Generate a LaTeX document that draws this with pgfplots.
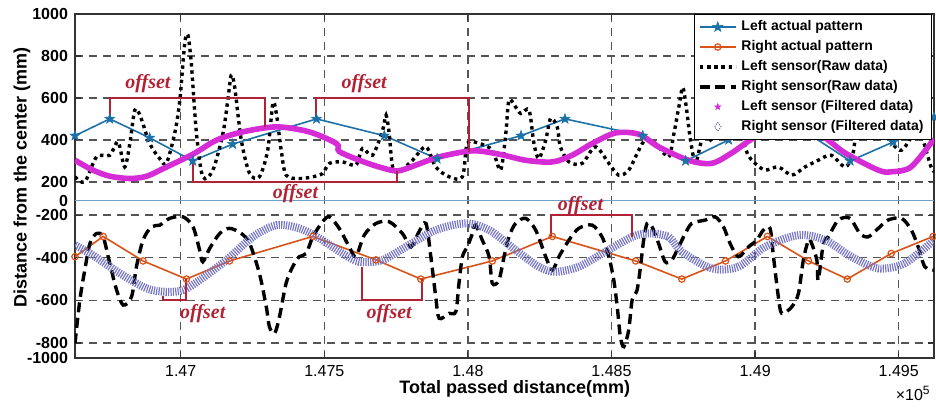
\documentclass[border=0pt]{standalone}
\usepackage{pgfplots}
\pgfplotsset{compat=1.18}
\usepackage{fontspec}
\setmainfont{Liberation Sans}
\newfontfamily\offsetfont{Liberation Serif}
\definecolor{lblue}{RGB}{28,114,168}
\definecolor{rorange}{RGB}{217,83,25}
\definecolor{lmag}{RGB}{214,44,214}
\definecolor{rlav}{RGB}{118,118,196}
\definecolor{offred}{RGB}{178,34,52}
\definecolor{zeroline}{RGB}{110,160,200}
\definecolor{gridc}{RGB}{85,85,85}
\pgfdeclareplotmark{pentagram}{%
  \pgfpathmoveto{\pgfpointpolar{90}{\pgfplotmarksize}}%
  \pgfpathlineto{\pgfpointpolar{126}{0.4\pgfplotmarksize}}%
  \pgfpathlineto{\pgfpointpolar{162}{\pgfplotmarksize}}%
  \pgfpathlineto{\pgfpointpolar{198}{0.4\pgfplotmarksize}}%
  \pgfpathlineto{\pgfpointpolar{234}{\pgfplotmarksize}}%
  \pgfpathlineto{\pgfpointpolar{270}{0.4\pgfplotmarksize}}%
  \pgfpathlineto{\pgfpointpolar{306}{\pgfplotmarksize}}%
  \pgfpathlineto{\pgfpointpolar{342}{0.4\pgfplotmarksize}}%
  \pgfpathlineto{\pgfpointpolar{18}{\pgfplotmarksize}}%
  \pgfpathlineto{\pgfpointpolar{54}{0.4\pgfplotmarksize}}%
  \pgfpathclose
  \pgfusepathqfillstroke
}
\begin{document}
\begin{tikzpicture}
\begin{axis}[
  at={(0,0)}, anchor=south west,
  scale only axis, width=429.5pt, height=172pt,
  xmin=146632, xmax=149623, ymin=-1000, ymax=1000,
  y coord trafo/.code={\pgfmathparse{ifthenelse(#1>=200, -181.7+(#1-200)*0.21, ifthenelse(#1>=0, -200.7+(#1)*0.095, ifthenelse(#1>=-200, -200.7+(#1)*0.0715, ifthenelse(#1>=-800, -215+(#1+200)*0.2133, -343+(#1+800)*0.075))))}},
  xtick={147000,147500,148000,148500,149000,149500},
  xticklabels={1.47,1.475,1.48,1.485,1.49,1.495},
  scaled x ticks=false,
  ytick={-800,-600,-400,-200,200,400,600,800},
  yticklabels={-800,-600,-400,-200,200,400,600,800},
  extra y ticks={-1000,0,1000},
  extra y tick labels={-1000,0,1000},
  extra y tick style={grid=none},
  grid=major,
  major grid style={gridc, line width=0.7pt, dash pattern=on 4pt off 3pt},
  axis line style={black!80, line width=0.9pt},
  tick align=inside, major tick length=3pt, tick style={black!80, line width=0.6pt},
  xticklabel style={font=\fontsize{8}{9}\selectfont},
  yticklabel style={font=\bfseries\fontsize{8}{9}\selectfont},
  xlabel={Total passed distance(mm)},
  ylabel={Distance from the center (mm)},
  xlabel style={font=\bfseries\fontsize{9}{10}\selectfont, at={(axis description cs:0.512,-0.09)}, anchor=center},
  ylabel style={font=\bfseries\fontsize{9}{10}\selectfont, at={(axis description cs:-0.0617,0.525)}, anchor=center},
  legend style={at={(1,1)}, anchor=north east, xshift=-1pt, draw=black, line width=0.5pt, fill=white,
    font=\bfseries\fontsize{7}{8}\selectfont, inner xsep=2pt, inner ysep=1pt, row sep=-0.6pt},
  legend cell align=left,
  legend image code/.code={\draw[mark repeat=2,mark phase=2,#1] plot coordinates {(0pt,0pt)(9pt,0pt)(18pt,0pt)};},
]
\addplot[zeroline, line width=0.5pt, forget plot] coordinates {(146632,0) (149623,0)};

\addplot[lblue, line width=0.8pt, mark=pentagram, mark size=2.6pt, mark options={fill=lblue, draw=lblue, line width=0.3pt, solid}] coordinates {
(146632,420) (146753,500) (146892,410) (147042,300) (147181,380) (147473,500) (147709,420) (147893,310) (148185,420) (148338,500) (148609,420) (148758,300) (148908,400) (149057,500) (149196,420) (149331,300) (149481,390) (149623,510)};
\addlegendentry{Left actual pattern}

\addplot[rorange, line width=0.8pt, mark=o, mark size=1.6pt, mark options={solid, line width=0.6pt}] coordinates {
(146632,-395) (146730,-300) (146869,-415) (147020,-500) (147170,-415) (147460,-300) (147680,-410) (147836,-500) (148085,-415) (148294,-300) (148584,-415) (148745,-500) (148897,-415) (149043,-300) (149186,-415) (149321,-500) (149474,-380) (149620,-300)};
\addlegendentry{Right actual pattern}

\addplot[black, line width=1.7pt, dash pattern=on 1.7pt off 1.9pt, smooth, tension=0.5] coordinates {
(146632,224) (146666,200) (146707,319) (146753,327) (146782,390) (146805,271) (146823,383) (146840,541) (146858,518) (146892,383) (146927,311) (146950,288) (146979,430) (146997,589) (147014,859) (147025,899) (147037,764) (147055,430) (147077,224) (147112,256) (147147,430) (147164,589) (147176,708) (147188,652) (147211,399) (147240,240) (147274,224) (147303,351) (147321,573) (147333,526) (147350,351) (147367,232) (147413,216) (147460,224) (147494,240) (147518,288) (147564,295) (147610,280) (147633,359) (147668,327) (147703,446) (147715,518) (147726,430) (147738,271) (147761,248) (147807,303) (147854,367) (147888,271) (147935,224) (147981,224) (147998,383) (148039,383) (148085,351) (148114,256) (148132,430) (148143,589) (148166,557) (148184,526) (148213,541) (148230,383) (148247,311) (148271,399) (148288,502) (148311,462) (148322,367) (148352,295) (148398,288) (148444,367) (148491,288) (148525,232) (148560,256) (148595,351) (148618,399) (148653,383) (148699,319) (148716,420) (148735,560) (148748,650) (148760,560) (148775,400) (148792,290) (148810,380) (148825,470) (148845,400) (148862,455) (148880,495) (148900,430) (148925,470) (148950,420) (148975,330) (149000,288) (149035,256) (149081,271) (149128,232) (149174,271) (149220,303) (149265,327) (149313,271) (149340,330) (149352,450) (149365,560) (149378,610) (149394,530) (149415,450) (149439,556) (149463,431) (149484,374) (149510,351) (149543,413) (149561,503) (149585,399) (149613,270) (149623,250)};
\addlegendentry{Left sensor(Raw data)}

\addplot[black, line width=1.7pt, dash pattern=on 5pt off 2.8pt, smooth, tension=0.5] coordinates {
(146632,-804) (146649,-598) (146666,-458) (146684,-333) (146707,-286) (146730,-302) (146753,-426) (146777,-552) (146800,-622) (146829,-583) (146846,-442) (146869,-317) (146898,-255) (146927,-247) (146962,-215) (147008,-208) (147043,-255) (147066,-364) (147077,-419) (147101,-356) (147136,-286) (147170,-262) (147211,-286) (147240,-333) (147274,-473) (147298,-630) (147309,-724) (147327,-755) (147344,-677) (147367,-520) (147390,-442) (147413,-395) (147437,-380) (147460,-302) (147494,-231) (147518,-208) (147552,-262) (147587,-349) (147610,-395) (147639,-294) (147680,-239) (147726,-231) (147772,-286) (147802,-349) (147829,-280) (147854,-239) (147871,-395) (147888,-583) (147900,-684) (147935,-661) (147958,-653) (147969,-520) (147981,-395) (147998,-349) (148016,-286) (148027,-247) (148050,-317) (148074,-395) (148085,-520) (148108,-505) (148126,-395) (148143,-302) (148166,-239) (148201,-215) (148236,-270) (148271,-395) (148294,-458) (148317,-395) (148352,-317) (148386,-262) (148433,-247) (148467,-302) (148491,-395) (148508,-505) (148520,-630) (148531,-771) (148543,-849) (148560,-739) (148572,-598) (148589,-552) (148601,-442) (148612,-317) (148624,-239) (148641,-255) (148664,-333) (148687,-419) (148710,-411) (148734,-349) (148757,-286) (148780,-239) (148827,-223) (148861,-208) (148890,-255) (148913,-333) (148942,-395) (148977,-349) (149006,-317) (149029,-270) (149052,-262) (149064,-395) (149081,-583) (149093,-661) (149128,-630) (149151,-567) (149168,-411) (149186,-317) (149197,-333) (149215,-411) (149220,-505) (149238,-333) (149255,-302) (149290,-223) (149330,-215) (149365,-286) (149394,-302) (149429,-262) (149463,-223) (149510,-215) (149544,-270) (149568,-349) (149591,-442) (149623,-458)};
\addlegendentry{Right sensor(Raw data)}

\addplot[lmag, line width=2.8pt, smooth, legend image code/.code={\draw[lmag, mark=pentagram, mark size=1.7pt, mark options={fill=lmag, line width=0.2pt}] plot coordinates {(9pt,0pt)};}] coordinates {
(146632,303) (146694,256) (146753,227) (146823,216) (146882,227) (146951,271) (147043,332) (147125,399) (147215,438) (147334,462) (147448,438) (147542,383) (147552,345) (147622,303) (147691,271) (147755,252) (147819,280) (147900,319) (148016,348) (148108,332) (148201,303) (148294,295) (148363,327) (148433,383) (148514,433) (148595,427) (148664,367) (148768,303) (148848,288) (148918,337) (149001,414) (149116,478) (149220,432) (149314,337) (149429,256) (149474,248) (149543,271) (149623,405)};
\addlegendentry{Left sensor (Filtered data)}

\addplot[rlav, line width=4pt, dash pattern=on 0.6pt off 0.6pt, smooth, legend image code/.code={\draw[rlav!70!black, mark=diamond, mark size=2.2pt, mark options={line width=0.4pt}] plot coordinates {(9pt,0pt)};}] coordinates {
(146632,-341) (146694,-388) (146788,-473) (146881,-544) (146950,-560) (147008,-552) (147066,-505) (147159,-411) (147251,-302) (147333,-247) (147413,-262) (147483,-309) (147564,-380) (147622,-419) (147702,-411) (147784,-349) (147888,-270) (147993,-239) (148074,-270) (148166,-364) (148247,-442) (148305,-466) (148386,-442) (148479,-372) (148572,-302) (148630,-286) (148699,-302) (148745,-372) (148849,-450) (148942,-442) (149035,-349) (149151,-294) (149244,-317) (149335,-395) (149429,-450) (149521,-426) (149623,-317)};
\addlegendentry{Right sensor (Filtered data)}

\addplot[offred, line width=1pt, forget plot] coordinates {(146753,500) (146753,600) (147292,600) (147292,460)};
\addplot[offred, line width=1pt, forget plot] coordinates {(147043,300) (147043,200) (147752,200) (147752,252)};
\addplot[offred, line width=1pt, forget plot] coordinates {(147472,500) (147472,600) (148004,600) (148004,343)};
\addplot[offred, line width=1pt, forget plot] coordinates {(146939,-578) (146939,-600) (147020,-600) (147020,-500)};
\addplot[offred, line width=1pt, forget plot] coordinates {(147631,-445) (147631,-600) (147840,-600) (147840,-500)};
\addplot[offred, line width=1pt, forget plot] coordinates {(148290,-300) (148290,-200) (148572,-200) (148572,-302)};

\node[offred, font=\offsetfont\bfseries\itshape\fontsize{10}{11}\selectfont] at (axis cs:146886,669) {offset};
\node[offred, font=\offsetfont\bfseries\itshape\fontsize{10}{11}\selectfont] at (axis cs:147639,669) {offset};
\node[offred, font=\offsetfont\bfseries\itshape\fontsize{10}{11}\selectfont] at (axis cs:147400,81) {offset};
\node[offred, font=\offsetfont\bfseries\itshape\fontsize{10}{11}\selectfont] at (axis cs:147077,-661) {offset};
\node[offred, font=\offsetfont\bfseries\itshape\fontsize{10}{11}\selectfont] at (axis cs:147726,-664) {offset};
\node[offred, font=\offsetfont\bfseries\itshape\fontsize{10}{11}\selectfont] at (axis cs:148392,-60) {offset};
\end{axis}
\node[anchor=north east, font=\fontsize{8}{9}\selectfont, inner sep=1pt] at (429pt,-13pt) {×10\textsuperscript{5}};
\pgfresetboundingbox
\useasboundingbox (-37.5pt,-24.5pt) rectangle (430.5pt,179pt);
\end{tikzpicture}
\end{document}
